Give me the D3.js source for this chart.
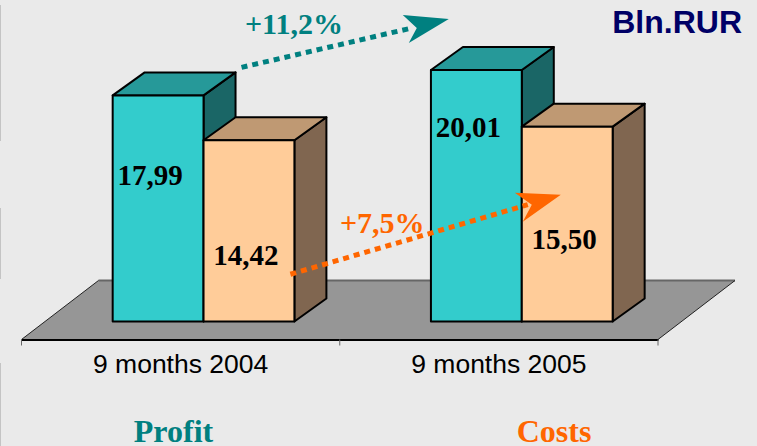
<!DOCTYPE html>
<html><head><meta charset="utf-8">
<script src="https://cdn.jsdelivr.net/npm/d3@7/dist/d3.min.js"></script>
<style>html,body{margin:0;padding:0;background:#eaeaea;overflow:hidden}svg{display:block}</style>
</head><body><svg id="c" width="757" height="446"></svg>
<script>
const categories = ["9 months 2004", "9 months 2005"];
const seriesNames = ["Profit", "Costs"];
const profitValues = [17.99, 20.01];
const costsValues = [14.42, 15.50];
const valueLabels = [["17,99", "20,01"], ["14,42", "15,50"]];
const growthLabels = ["+11,2%", "+7,5%"];
const unitLabel = "Bln.RUR";
const seriesValues = [profitValues, costsValues];

const fronts = ["#33cccc", "#ffcc99"], tops = ["#269999", "#bf9973"], sides = ["#1a6666", "#806650"];
const accent = ["#008080", "#ff6600"];
const serif = "'Liberation Serif',serif", sans = "'Liberation Sans',sans-serif";

const svg = d3.select("#c");
const baseY = 321.5, axisY = 339.5;
const x = d3.scaleBand().domain(categories).range([21.5, 658]);
const bw = x.bandwidth();
const xs = d3.scaleBand().domain(seriesNames).range([bw * 0.2865, bw * 0.8575]);
const y = d3.scaleLinear().domain([0, 20.01]).range([baseY, 70]);
const dep = {dx: 32, dy: -23}, floorDep = {dx: 77, dy: -59};
const poly = pts => pts.map(p => p.join(",")).join(" ");

// side marks on the left margin
svg.selectAll("line.m").data([[5, 141], [208, 279], [363, 446]]).join("line")
  .attr("x1", .5).attr("x2", .5).attr("y1", d => d[0]).attr("y2", d => d[1])
  .attr("stroke", "#c4c4c4").attr("stroke-width", 1);

// floor
const [fx0, fx1] = x.range();
svg.append("polygon").attr("fill", "#969696")
  .attr("points", poly([[fx0, axisY], [fx1, axisY], [fx1 + floorDep.dx, axisY + floorDep.dy], [fx0 + floorDep.dx, axisY + floorDep.dy]]));
svg.append("line").attr("x1", fx0 + floorDep.dx).attr("x2", fx1 + floorDep.dx)
  .attr("y1", axisY + floorDep.dy).attr("y2", axisY + floorDep.dy).attr("stroke", "#666").attr("stroke-width", 2);
svg.append("line").attr("x1", fx0).attr("x2", fx0 + floorDep.dx)
  .attr("y1", axisY).attr("y2", axisY + floorDep.dy).attr("stroke", "#222").attr("stroke-width", 1);
svg.append("line").attr("x1", fx1).attr("x2", fx1 + floorDep.dx)
  .attr("y1", axisY).attr("y2", axisY + floorDep.dy).attr("stroke", "#222").attr("stroke-width", 1);

// axis
const axis = svg.append("g").attr("transform", `translate(0,${axisY})`)
  .call(d3.axisBottom(x).tickSize(0).tickSizeOuter(0).tickPadding(15));
axis.select(".domain").attr("stroke", "#000").attr("stroke-width", 2);
axis.selectAll("text").attr("font-family", sans).attr("font-size", 26.5).attr("fill", "#000");
axis.selectAll("line.b").data([...categories.map(c => x(c)), fx1]).join("line").attr("class", "b")
  .attr("x1", d => d).attr("x2", d => d).attr("y1", 0).attr("y2", 6).attr("stroke", "#666").attr("stroke-width", 1);

// bars
const stroke = {stroke: "#000", "stroke-width": 2, "stroke-linejoin": "round"};
const bars = [];
categories.forEach((c, ci) => seriesNames.forEach((s, si) => bars.push({c, ci, s, si, v: seriesValues[si][ci]})));
bars.forEach(b => {
  const l = x(b.c) + xs(b.s), r = l + xs.bandwidth(), t = y(b.v), g = svg.append("g");
  const add = (pts, fill) => { const p = g.append("polygon").attr("points", poly(pts)).attr("fill", fill); for (const k in stroke) p.attr(k, stroke[k]); };
  add([[r, t], [r + dep.dx, t + dep.dy], [r + dep.dx, baseY + dep.dy], [r, baseY]], sides[b.si]);
  add([[l, t], [l + dep.dx, t + dep.dy], [r + dep.dx, t + dep.dy], [r, t]], tops[b.si]);
  add([[l, t], [r, t], [r, baseY], [l, baseY]], fronts[b.si]);
  b.l = l; b.r = r; b.t = t;
});
bars.forEach(b => {
  svg.append("text").text(valueLabels[b.si][b.ci])
    .attr("x", (b.l + b.r) / 2 + (b.si ? -3 : -8)).attr("y", b.si ? (b.ci ? 249 : 265) : (b.ci ? 137 : 185))
    .attr("text-anchor", "middle").attr("font-family", serif).attr("font-weight", "bold").attr("font-size", 29).attr("fill", "#000");
});

// growth arrows: teal from bar 1 to 3 top, orange from costs 2004 to costs 2005
function arrow(x0, y0, x1, y1, tip, a, b, n, col) {
  svg.append("line").attr("x1", x0).attr("y1", y0).attr("x2", x1).attr("y2", y1)
    .attr("stroke", col).attr("stroke-width", 5).attr("stroke-dasharray", "6 5");
  svg.append("polygon").attr("points", poly([tip, a, n, b])).attr("fill", col);
}
const p04 = bars[0], p05 = bars[2], c04 = bars[1], c05 = bars[3];
arrow(p04.r + dep.dx + 6, p04.t + dep.dy - 5, p05.r - 110, p05.t - 42,
  [p05.r - 73, p05.t - 51], [p05.r - 119, p05.t - 55], [p05.r - 113, p05.t - 27], [p05.r - 105, p05.t - 42], accent[0]);
arrow(c04.r - 4, c04.t + 134, c05.l + 6, c05.t + 78,
  [c05.l + 39, c05.t + 68], [c05.l - 7, c05.t + 66], [c05.l + 1, c05.t + 95], [c05.l + 10, c05.t + 78], accent[1]);
svg.append("text").text(growthLabels[0]).attr("x", 245).attr("y", 34).attr("font-family", serif).attr("font-weight", "bold").attr("font-size", 30).attr("fill", accent[0]);
svg.append("text").text(growthLabels[1]).attr("x", 340).attr("y", 233).attr("font-family", serif).attr("font-weight", "bold").attr("font-size", 30).attr("fill", accent[1]);

svg.append("text").text(unitLabel).attr("x", 742).attr("y", 33).attr("text-anchor", "end")
  .attr("font-family", sans).attr("font-weight", "bold").attr("font-size", 32).attr("fill", "#000066");

// legend
const legendX = d3.scalePoint().domain(seriesNames).range([173.5, 554]);
svg.selectAll("text.leg").data(seriesNames).join("text").attr("class", "leg").text(d => d)
  .attr("x", d => legendX(d)).attr("y", 442).attr("text-anchor", "middle")
  .attr("font-family", serif).attr("font-weight", "bold").attr("font-size", 32)
  .attr("fill", (d, i) => accent[i]);
</script></body></html>
